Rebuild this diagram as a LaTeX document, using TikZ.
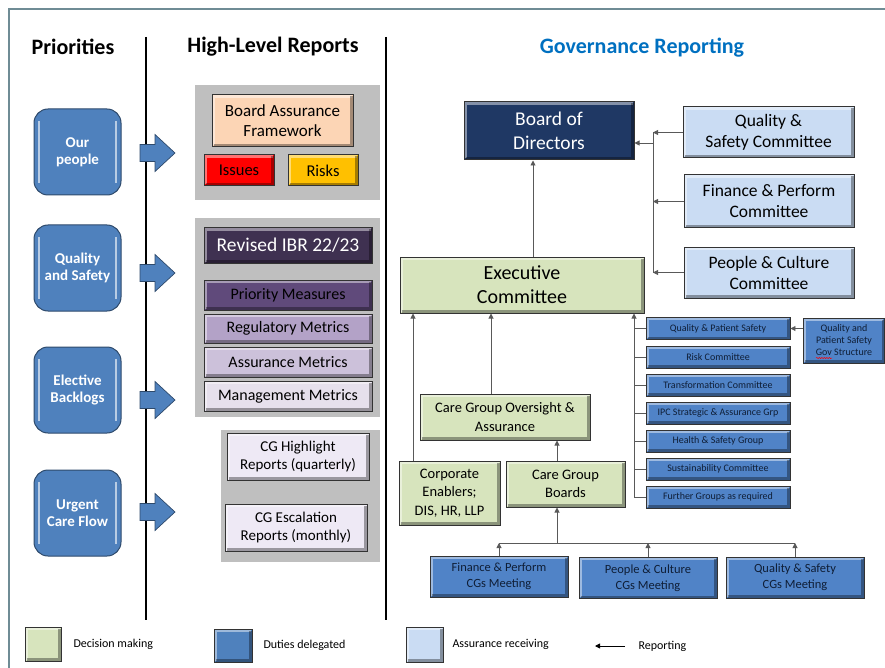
\documentclass[tikz,border=0pt]{standalone}
\usepackage{fontspec}
\setmainfont{Carlito}
\usetikzlibrary{arrows.meta,decorations.pathmorphing}

\definecolor{frameline}{HTML}{6F8C95}
\definecolor{prioblue}{HTML}{4F81BD}
\definecolor{prioedge}{HTML}{2E4A6B}
\definecolor{panelgray}{HTML}{BFBFBF}
\definecolor{bafpeach}{HTML}{FCD5B5}
\definecolor{issuered}{HTML}{FF0000}
\definecolor{riskamber}{HTML}{FFC000}
\definecolor{ibrpurple}{HTML}{3F3151}
\definecolor{measpurple}{HTML}{604A7B}
\definecolor{regulilac}{HTML}{B3A2C7}
\definecolor{assulilac}{HTML}{CCC1DA}
\definecolor{mgmtlilac}{HTML}{E6E0EC}
\definecolor{cglilac}{HTML}{EEE9F5}
\definecolor{boardnavy}{HTML}{1F3864}
\definecolor{assblue}{HTML}{CADCF3}
\definecolor{decgreen}{HTML}{D7E4BD}
\definecolor{dutyblue}{HTML}{5083C7}
\definecolor{navytext}{HTML}{0F1E36}
\definecolor{govblue}{HTML}{0070C0}

\newcommand{\fsz}[2]{\fontsize{#1}{#2}\selectfont}

\tikzset{
  bevel/.style={path picture={
    \draw[white, opacity=0.45, line width=2.5pt]
      ([shift={(1.5pt,1.5pt)}]path picture bounding box.south west)
      |- ([shift={(-1.5pt,-1.5pt)}]path picture bounding box.north east);
    \draw[black, opacity=0.35, line width=2.5pt]
      ([shift={(1.5pt,1.5pt)}]path picture bounding box.south west)
      -| ([shift={(-1.5pt,-1.5pt)}]path picture bounding box.north east);
  }},
  gloss/.style={path picture={
    \draw[white, opacity=0.6, line width=1.2pt]
      ([shift={(5pt,12pt)}]path picture bounding box.south west)
      -- ([shift={(5pt,-12pt)}]path picture bounding box.north west);
    \draw[white, opacity=0.6, line width=1.2pt]
      ([shift={(-5pt,12pt)}]path picture bounding box.south east)
      -- ([shift={(-5pt,-12pt)}]path picture bounding box.north east);
  }},
  head/.style={font=\bfseries\fsz{22}{26}},
  prio/.style={draw=prioedge, line width=1pt, fill=prioblue, gloss,
    rounded corners=14pt, minimum width=87, minimum height=86,
    text=white, font=\bfseries\fsz{15}{17}, align=center},
  rbox/.style={draw=black!80, line width=1pt, bevel, align=center,
    inner sep=1pt, font=\fsz{16}{20}},
  gbox/.style={rbox, fill=decgreen, font=\fsz{14.5}{18.5}},
  cbox/.style={rbox, fill=assblue, font=\fsz{17.5}{21}},
  dbox/.style={rbox, fill=dutyblue, text=navytext, font=\fsz{10}{12},
    line width=0.9pt},
  mbox/.style={dbox, font=\fsz{12.5}{16}, minimum width=138, minimum height=41},
  legtext/.style={anchor=west, font=\fsz{12}{14}},
  link/.style={draw=black!65, line width=0.9pt},
  rep/.style={link, -{Triangle[length=5pt,width=5pt]}},
}

\begin{document}
\begin{tikzpicture}[x=1pt, y=-1pt]
  \useasboundingbox (0,0) rectangle (885,668);
  \draw[frameline, line width=1.3pt] (885,9) -- (9,9) -- (9,668);

  % column headings and separators
  \node[head] (hprio) at (73,47) {Priorities};
  \node[head] (hrep) at (273,47) {High-Level Reports};
  \node[head, text=govblue] (hgov) at (642,48) {Governance Reporting};
  \draw[line width=2.5pt] (146,37) -- (146,620);
  \draw[line width=2.5pt] (386,37) -- (386,620);

  % priorities
  \node[prio] (ourppl) at (77.5,152) {Our\\people};
  \node[prio] (qualsafe) at (77.5,268) {Quality\\and Safety};
  \node[prio] (elective) at (77.5,390) {Elective\\Backlogs};
  \node[prio] (urgent) at (77.5,513) {Urgent\\Care Flow};
  \foreach \c in {153,273,400,512}
    \filldraw[fill=prioblue, draw=prioedge, line width=0.7pt]
      (140,\c-8.5) -- (155,\c-8.5) -- (155,\c-18.5) -- (175,\c)
      -- (155,\c+18.5) -- (155,\c+8.5) -- (140,\c+8.5) -- cycle;

  % high-level reports
  \fill[panelgray] (195,85) rectangle (380,200);
  \fill[panelgray] (195,218) rectangle (380,417);
  \fill[panelgray] (221,430) rectangle (380,562);
  \node[rbox, fill=bafpeach, font=\fsz{17}{20}, minimum width=141, minimum height=52] (baf) at (282.5,121) {Board Assurance\\Framework};
  \node[rbox, fill=issuered, font=\fsz{16.5}{20}, minimum width=70, minimum height=31] (issues) at (239,170.5) {Issues};
  \node[rbox, fill=riskamber, font=\fsz{16.5}{20}, minimum width=70, minimum height=31] (risks) at (323,170.5) {Risks};
  \node[rbox, fill=ibrpurple, text=white, font=\fsz{19.5}{22}, minimum width=168, minimum height=35] (ibr) at (288,245.5) {Revised IBR 22/23};
  \node[rbox, fill=measpurple, minimum width=168, minimum height=30] (measures) at (288,295) {Priority Measures};
  \node[rbox, fill=regulilac, minimum width=168, minimum height=29] (regmetrics) at (288,328.5) {Regulatory Metrics};
  \node[rbox, fill=assulilac, minimum width=168, minimum height=30] (assmetrics) at (288,362) {Assurance Metrics};
  \node[rbox, fill=mgmtlilac, minimum width=168, minimum height=30] (mgmtmetrics) at (288,396) {Management Metrics};
  \node[rbox, fill=cglilac, font=\fsz{15}{18}, minimum width=142, minimum height=47] (cghigh) at (298,456.5) {CG Highlight\\Reports (quarterly)};
  \node[rbox, fill=cglilac, font=\fsz{15}{18}, minimum width=142, minimum height=47] (cgesc) at (296,527.5) {CG Escalation\\Reports (monthly)};

  % governance reporting
  \node[rbox, fill=boardnavy, text=white, font=\fsz{19.5}{24}, minimum width=170, minimum height=58] (board) at (549,131) {Board of\\Directors};
  \node[cbox, minimum width=171, minimum height=51] (qsc) at (768.5,132.5) {Quality \&\\Safety Committee};
  \node[cbox, minimum width=170, minimum height=53] (fpc) at (769,201.5) {Finance \& Perform\\Committee};
  \node[cbox, minimum width=170, minimum height=51] (pcc) at (769,272.5) {People \& Culture\\Committee};
  \node[gbox, font=\fsz{20}{24}, minimum width=244, minimum height=56] (exec) at (522,285) {Executive\\Committee};
  \node[gbox, minimum width=170, minimum height=46] (cgoa) at (505,417) {Care Group Oversight \&\\Assurance};
  \node[gbox, minimum width=101, minimum height=64] (corp) at (449.5,493) {Corporate\\Enablers;\\DIS, HR, LLP};
  \node[gbox, minimum width=119, minimum height=46] (cgb) at (565.5,484) {Care Group\\Boards};

  \foreach \n/\y/\t in {qps/328.5/Quality \& Patient Safety, risk/357/Risk Committee,
      trans/385/Transformation Committee, ipc/413/IPC Strategic \& Assurance Grp,
      hsg/441/Health \& Safety Group, sust/469/Sustainability Committee,
      further/497/Further Groups as required}
    \node[dbox, minimum width=144, minimum height=22] (\n) at (718,\y) {\t};
  \node[dbox, minimum width=81, minimum height=45] (qpsgov) at (844,340.5) {Quality and\\Patient Safety\\Gov Structure};
  \draw[red, line width=0.5pt, decorate, decoration={snake, amplitude=0.6pt, segment length=2.5pt}] (816,358) -- (832,358);

  \node[mbox] (fpmeet) at (499,576.5) {Finance \& Perform\\CGs Meeting};
  \node[mbox] (pcmeet) at (648,578) {People \& Culture\\CGs Meeting};
  \node[mbox] (qsmeet) at (795,577.5) {Quality \& Safety\\CGs Meeting};

  % reporting lines
  \coordinate (gtrunk) at (653,0);
  \coordinate (btrunk) at (634,0);
  \coordinate (bus) at (557,543);
  \draw[link] (qsc.west -| gtrunk) -- (pcc.west -| gtrunk);
  \foreach \n in {qsc,fpc,pcc}
    \draw[rep] (\n.west) -- (\n.west -| gtrunk);
  \draw[rep] ([yshift=-12pt]board.east -| gtrunk) -- ([yshift=-12pt]board.east);
  \draw[rep] ([xshift=-16pt]board.south |- exec.north) -- ([xshift=-16pt]board.south);
  \draw[rep] ([xshift=-36.5pt]corp.north) -- ([xshift=-36.5pt]corp.north |- exec.south);
  \draw[rep] ([xshift=-14pt]cgoa.north) -- ([xshift=-14pt]cgoa.north |- exec.south);
  \draw[rep] (further.west -| btrunk) -- (btrunk |- exec.south);
  \foreach \n in {qps,risk,trans,ipc,hsg,sust,further}
    \draw[link] (\n.west -| btrunk) -- (\n.west);
  \draw[rep] (qpsgov.west |- qps.east) -- (qps.east);
  \draw[rep] (bus |- cgb.north) -- (bus |- cgoa.south);
  \draw[rep] (bus) -- (bus |- cgb.south);
  \draw[link] (fpmeet.north |- bus) -- (qsmeet.north |- bus);
  \foreach \n in {fpmeet,pcmeet,qsmeet}
    \draw[rep] (\n.north) -- (\n.north |- bus);

  % key
  \node[rbox, fill=decgreen, minimum width=36, minimum height=34] (keydec) at (43,644) {};
  \node[legtext] (ldec) at (70,644) {Decision making};
  \node[rbox, fill=prioblue, minimum width=38, minimum height=33] (keyduty) at (233,645.5) {};
  \node[legtext] (lduty) at (260,645) {Duties delegated};
  \node[rbox, fill=assblue, minimum width=37, minimum height=35] (keyass) at (424.5,644.5) {};
  \node[legtext] (lass) at (449,644) {Assurance receiving};
  \node[legtext] (lrep) at (635,646) {Reporting};
  \draw[rep, black] ([xshift=-10pt]lrep.west) -- ([xshift=-40pt]lrep.west);
\end{tikzpicture}
\end{document}
